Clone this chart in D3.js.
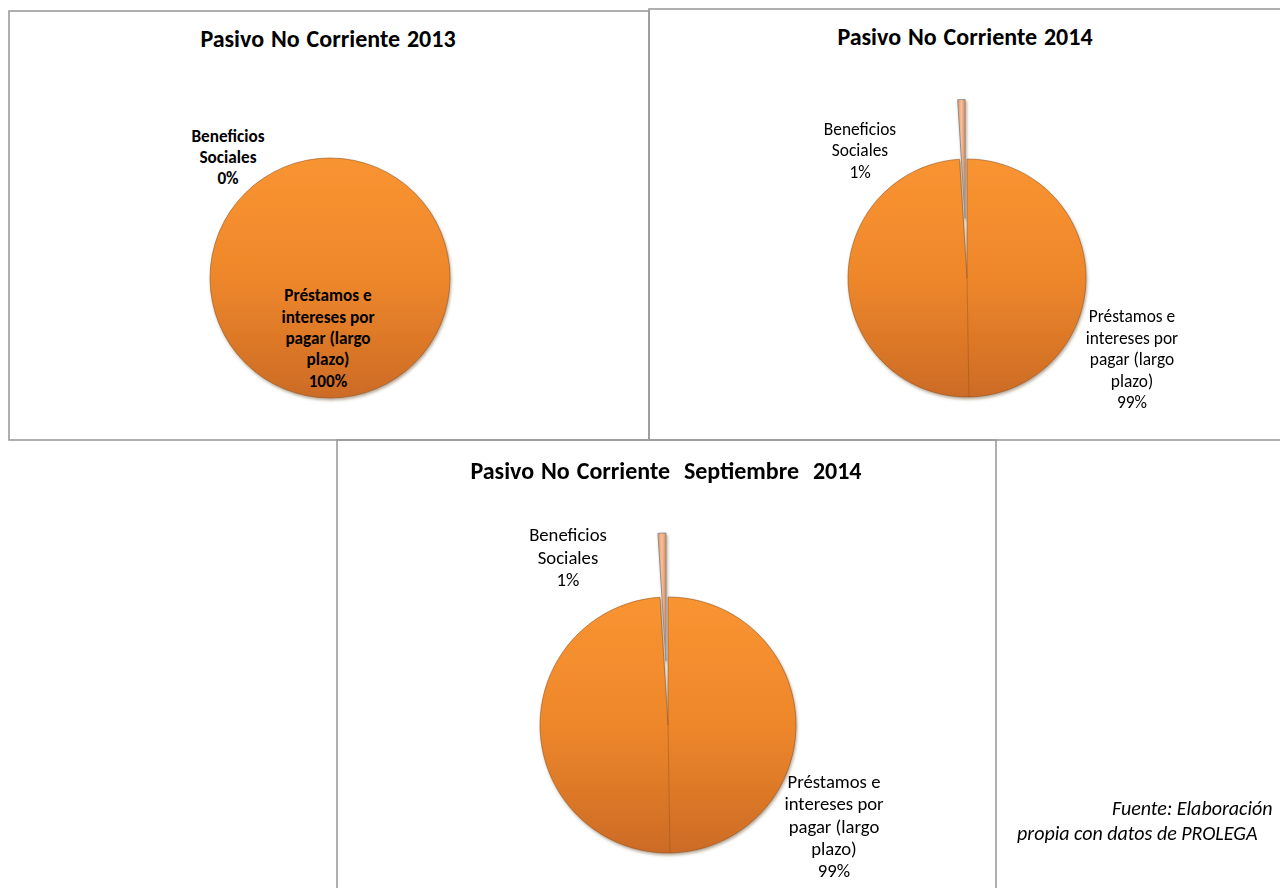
<!DOCTYPE html>
<html>
<head>
<meta charset="utf-8">
<script src="https://cdn.jsdelivr.net/npm/d3@7"></script>
<style>
  body { margin: 0; background: #fff; }
  svg { display: block; font-family: Calibri, Carlito, Lato, sans-serif; }
</style>
</head>
<body>
<svg id="chart" width="1280" height="888"></svg>
<script>
// data
var titles = ["Pasivo No Corriente 2013", "Pasivo No Corriente 2014", "Pasivo No Corriente  Septiembre  2014"];
var categories = ["Préstamos e intereses por pagar (largo plazo)", "Beneficios Sociales"];
var categoryLines = [["Préstamos e", "intereses por", "pagar (largo", "plazo)"], ["Beneficios", "Sociales"]];
var values2013 = [100, 0];
var values2014 = [99, 1];
var valuesSep2014 = [99, 1];
var footerLines = ["Fuente: Elaboración", "propia con datos de PROLEGA"];

// layout of each panel (boxes, centres, label spots)
var panels = [
  {values: values2013, title: titles[0], box: [9, 11, 640, 429], cx: 330, cy: 278, r: 120, titleX: 328, titleY: 47,
   bold: true, fs: 17.2, lh: 21.3, labels: [[328, 338], [228, 157]]},
  {values: values2014, title: titles[1], box: [649, 9, 660, 431], cx: 967, cy: 278, r: 119, titleX: 965, titleY: 45,
   bold: false, fs: 17.4, lh: 21.5, labels: [[1132, 359], [860, 150]]},
  {values: valuesSep2014, title: titles[2], box: [337, 440, 659, 470], cx: 668, cy: 725, r: 128, titleX: 666, titleY: 479,
   bold: false, fs: 18.7, lh: 22.3, labels: [[834, 826], [568, 557]]}
];

var svg = d3.select("#chart");
var defs = svg.append("defs");

var g1 = defs.append("linearGradient").attr("id", "orange")
  .attr("x1", 0).attr("y1", 0).attr("x2", 0).attr("y2", 1);
g1.append("stop").attr("offset", "0%").attr("stop-color", "#F99431");
g1.append("stop").attr("offset", "50%").attr("stop-color", "#EE872B");
g1.append("stop").attr("offset", "100%").attr("stop-color", "#CC6B25");

var g2 = defs.append("linearGradient").attr("id", "peach")
  .attr("x1", 0).attr("y1", 0).attr("x2", 1).attr("y2", 0);
g2.append("stop").attr("offset", "0%").attr("stop-color", "#E8935E");
g2.append("stop").attr("offset", "50%").attr("stop-color", "#F8C09A");
g2.append("stop").attr("offset", "100%").attr("stop-color", "#E08A55");

var shadow = defs.append("filter").attr("id", "shadow")
  .attr("x", "-20%").attr("y", "-20%").attr("width", "140%").attr("height", "140%");
shadow.append("feDropShadow").attr("dx", 1).attr("dy", 2).attr("stdDeviation", 1.5)
  .attr("flood-color", "#5a3a1a").attr("flood-opacity", 0.45);

var fills = ["url(#orange)", "url(#peach)"];

panels.forEach(function(p) {
  svg.append("rect")
    .attr("x", p.box[0]).attr("y", p.box[1])
    .attr("width", p.box[2]).attr("height", p.box[3])
    .attr("fill", "none")
    .attr("stroke", "#9c9c9c")
    .attr("stroke-width", 1.6);
});

panels.forEach(function(p) {
  var g = svg.append("g");

  g.append("text")
    .attr("x", p.titleX)
    .attr("y", p.titleY)
    .attr("text-anchor", "middle")
    .attr("font-size", 24)
    .attr("font-weight", "bold")
    .attr("word-spacing", 1.5)
    .style("white-space", "pre")
    .text(p.title);

  var total = d3.sum(p.values);
  var pie = d3.pie().sort(null).value(function(d) { return d; });
  var arc = d3.arc().innerRadius(0).outerRadius(p.r);
  var explode = p.r * 0.5;

  g.append("g")
    .attr("transform", "translate(" + p.cx + "," + p.cy + ")")
    .attr("filter", "url(#shadow)")
    .selectAll("path")
    .data(pie(p.values))
    .enter().append("path")
    .attr("d", arc)
    .attr("transform", function(d, i) {
      if (i == 0) return null;
      var a = (d.startAngle + d.endAngle) / 2;
      return "translate(" + Math.sin(a) * explode + "," + (-Math.cos(a) * explode) + ")";
    })
    .attr("fill", function(d, i) { return fills[i]; })
    .attr("stroke", function(d, i) { return i == 0 ? "rgba(140,80,30,0.55)" : "#8f8f8f"; })
    .attr("stroke-width", 1)
    .attr("display", function(d) { return d.value > 0 ? null : "none"; });

  // faint seam running down from the centre, as in the original 3D style
  if (p.values[1] > 0) {
    g.append("line")
      .attr("x1", p.cx).attr("y1", p.cy)
      .attr("x2", p.cx + 2).attr("y2", p.cy + p.r)
      .attr("stroke", "rgba(150,80,25,0.45)")
      .attr("stroke-width", 1);
  }

  // data labels: category name + percentage
  p.values.forEach(function(v, i) {
    var lines = categoryLines[i].concat([Math.round(v / total * 100) + "%"]);
    var top = p.labels[i][1] - (lines.length - 1) * p.lh / 2;
    var t = g.append("text")
      .attr("text-anchor", "middle")
      .attr("font-size", p.fs)
      .attr("font-weight", p.bold ? "bold" : "normal")
      .attr("fill", "#000");
    lines.forEach(function(s, k) {
      t.append("tspan")
        .attr("x", p.labels[i][0])
        .attr("y", top + k * p.lh)
        .attr("dy", "0.35em")
        .text(s);
    });
  });
});

var foot = svg.append("text")
  .attr("font-size", 20)
  .attr("font-style", "italic")
  .attr("fill", "#000");
foot.append("tspan").attr("x", 1112).attr("y", 808).attr("dy", "0.35em").text(footerLines[0]);
foot.append("tspan").attr("x", 1017).attr("y", 833).attr("dy", "0.35em").text(footerLines[1]);
</script>
</body>
</html>
